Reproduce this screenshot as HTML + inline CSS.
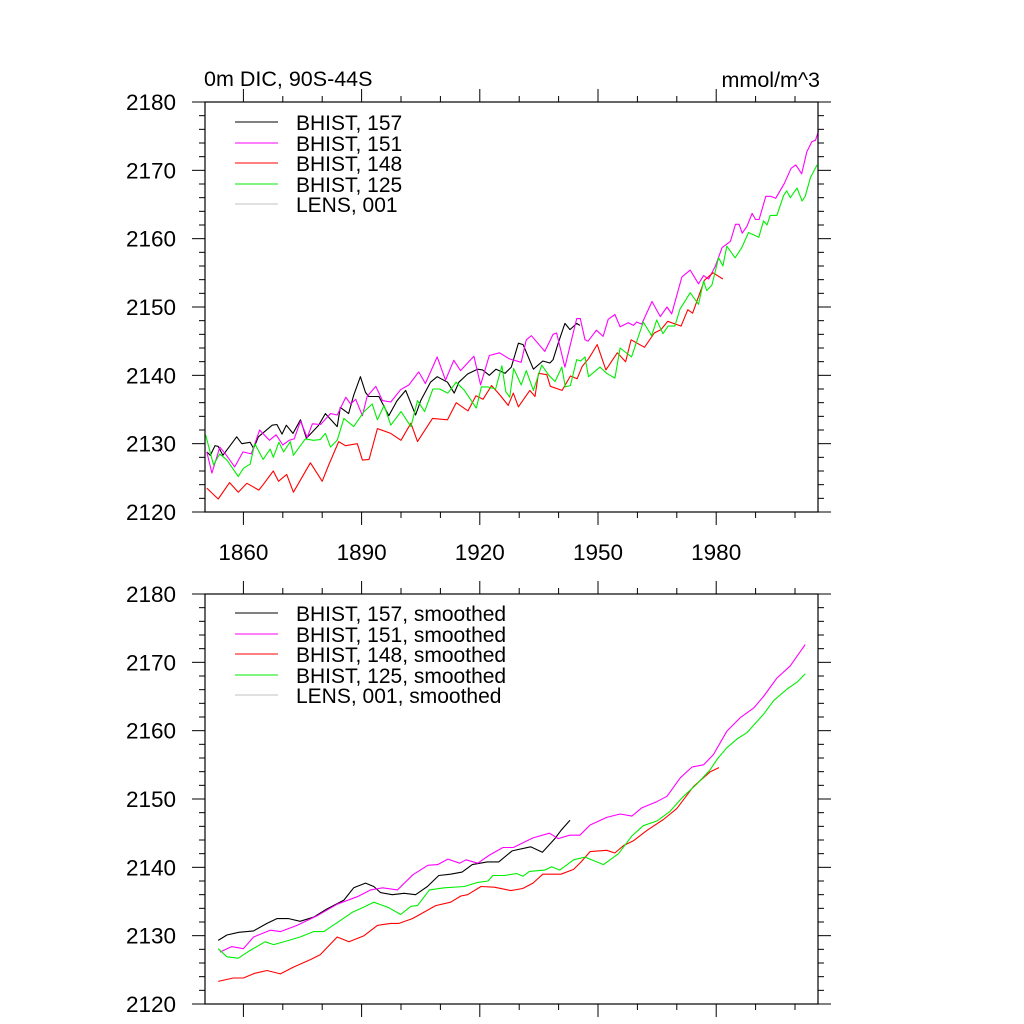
<!DOCTYPE html>
<html><head><meta charset="utf-8"><style>
html,body{margin:0;padding:0;background:#fff;}
svg{display:block;font-family:"Liberation Sans",sans-serif;}
</style></head><body>
<svg id="chart" width="1024" height="1024" viewBox="0 0 1024 1024">
<rect x="0" y="0" width="1024" height="1024" fill="#fff"/>
<text x="204" y="86" font-size="21.5" fill="#000">0m DIC, 90S-44S</text>
<text x="820" y="87" font-size="21.5" fill="#000" text-anchor="end">mmol/m^3</text>
<g id="top"></g>
<g id="bot"></g>
</svg>
<script>
// ---- data: raw annual series (top panel) ----
const yearsBlack = [1850.7,1851.6,1852.8,1853.6,1854.8,1858.3,1859.6,1861.7,1862.6,1863.8,1867.3,1868.5,1869.8,1870.9,1872.6,1874.5,1876,1879.1,1880.8,1883.8,1884.6,1886.7,1888,1889.7,1891,1891.8,1894.4,1896.9,1899,1901.2,1903.7,1905,1907.5,1909.2,1911.8,1913.5,1914.7,1916.9,1919.4,1920.7,1922.4,1924.1,1926.4,1928,1929.8,1931,1933.6,1936,1937.8,1938.6,1939.9,1941.6,1942.9,1944.6,1945.4];
const valsBlack = [2128.8,2128.3,2129.7,2129.6,2128.3,2131,2130,2130.2,2129.3,2131,2132.7,2132.8,2131.4,2132.7,2131.5,2133.5,2130.8,2132.7,2134.4,2132.5,2135.3,2134.4,2137.1,2139.8,2137.5,2136.9,2136.9,2134.1,2136.3,2137.8,2134.2,2136.3,2139,2139.8,2139,2137.4,2139,2140.2,2140.9,2140.8,2140,2140.9,2140.3,2141.2,2144.7,2144.5,2140.9,2142.1,2141.8,2142.3,2144.7,2147.6,2146.7,2147.6,2147.3];
const yearsMag = [1850.7,1852,1854,1855.3,1857.8,1859.9,1862,1864.1,1866.6,1868.3,1870,1871.6,1872.9,1874.5,1876.2,1877.5,1879.6,1882.1,1883.8,1886,1887.2,1888.5,1890.2,1891.4,1893.6,1895.3,1897.4,1899.9,1902,1904.5,1906.2,1909.2,1911.3,1913.4,1915.1,1918.5,1920.2,1922.4,1925,1927.5,1930.5,1931.8,1933.1,1936.5,1938.6,1939.5,1941.6,1944.6,1945.5,1946.7,1947.5,1949.6,1951.3,1952.6,1954.3,1955.6,1957.7,1959,1959.8,1961.1,1963.7,1965.8,1967.5,1968.7,1971.3,1973.4,1975.5,1976.8,1978.1,1979.8,1981.5,1983.6,1984.9,1985.8,1986.6,1987.8,1989.1,1990,1990.9,1992.6,1993.8,1995.1,1997.3,1999,2000.2,2001.7,2003,2004.3,2005.2,2006];
const valsMag = [2128.8,2125.7,2129.5,2128.6,2126.6,2128.8,2128.5,2132,2130.5,2131.3,2129.8,2130.5,2130.7,2133.3,2130.9,2132.9,2132.8,2134.4,2134.2,2136.8,2135.8,2136.5,2134.1,2136.9,2138.4,2136.3,2136.1,2137.9,2138.6,2140.5,2138.8,2142.7,2139.3,2142.2,2140.7,2142.8,2138.6,2142.9,2143.3,2142.4,2141.9,2145.2,2145.8,2143.5,2146,2146.2,2141.2,2148.3,2148.3,2145.2,2145,2146.6,2145.7,2148.2,2148.9,2147.1,2147.7,2147.3,2147.8,2147.5,2150.8,2148.6,2150,2149,2154.4,2155.4,2153.4,2154.6,2154.1,2156,2158.7,2159.6,2162.1,2162.1,2160.8,2161.8,2163.7,2162.8,2162.8,2166.2,2166.2,2165.9,2168.1,2170.3,2170.8,2169.5,2172.7,2174.2,2174.4,2175.8];
const yearsRed = [1850.7,1853.6,1856.5,1858.7,1860.9,1863.9,1865,1867.6,1868.9,1871,1872.7,1877,1880,1881.6,1884.2,1885.9,1888.9,1890.2,1891.9,1894,1897.4,1900,1902.5,1904.2,1908,1911.8,1914,1917,1919,1920.8,1923,1925,1927.2,1928.5,1929.8,1932.7,1934,1934.9,1937,1937.9,1940.9,1943,1944.7,1946,1947.7,1949.8,1952,1954.9,1957,1958.4,1961.8,1964.3,1966,1967.7,1971.1,1972.8,1974,1977,1979.2,1981.7];
const valsRed = [2123.5,2121.9,2124.3,2122.9,2124.2,2123.2,2124,2126,2124.5,2125.5,2122.9,2127.2,2124.5,2126.8,2130.3,2129.7,2130,2127.6,2127.7,2132.2,2131.5,2130.5,2133,2130.3,2133.7,2133.5,2136,2134.8,2137,2136.5,2138.5,2137.2,2135.6,2137.4,2135.4,2137.8,2136.9,2140.3,2140.1,2138.4,2137.8,2139.9,2139.5,2141.3,2142.5,2144.5,2140.8,2143.3,2142,2145.2,2144.1,2146.2,2146.7,2147.9,2147.2,2149.6,2149.1,2153.9,2155,2154.1];
const yearsGreen = [1850.4,1852.4,1854,1855.8,1858.7,1860,1861.7,1862.9,1865,1866.8,1867.6,1869,1870.2,1871.9,1872.7,1875.7,1877.8,1879.5,1880.8,1882.1,1883.8,1885.5,1888,1890.6,1892.7,1894,1895.7,1897.4,1900,1902.5,1904.2,1906,1908.1,1909.8,1911.9,1914,1916.1,1919.1,1920.4,1922,1924,1925.6,1926.6,1927.6,1928.6,1930.5,1931.8,1933.6,1935.7,1937.5,1939.1,1940.8,1941.7,1943,1944.6,1945.6,1946.7,1947.6,1950.5,1952.2,1954.3,1955.6,1958.5,1961.5,1963.6,1964.9,1966.5,1967.8,1969.5,1970.8,1971.7,1973.4,1975.5,1976.8,1977.6,1978.9,1980.6,1981.7,1982.7,1984.8,1986.5,1988.2,1990.8,1992,1992.9,1993.7,1995.4,1997.1,1997.9,1998.8,2000.5,2001.8,2002.6,2003.9,2005.6];
const valsGreen = [2131.3,2126.9,2128.5,2127.6,2125.2,2126.4,2127,2130,2127.7,2129.2,2128,2130.2,2128.8,2130.3,2128.3,2130.7,2130.5,2130.6,2131.5,2129.5,2130.5,2133.7,2132.5,2134.7,2135.8,2133.5,2135.6,2132.7,2134.7,2132.5,2136.3,2134.7,2138,2138,2137.4,2139,2137.8,2135.2,2138.3,2138.3,2138,2141.4,2137.6,2136.8,2141,2138.6,2140.7,2137.8,2141.5,2140,2139.1,2141.2,2138.3,2138.5,2142.3,2142.1,2142.7,2139.8,2141.2,2140.3,2139.6,2144,2142.7,2147.8,2145.8,2148.1,2146.1,2147.2,2147.2,2149.7,2150.5,2152.1,2150.4,2153.8,2152.4,2153.2,2157.2,2156,2158.9,2157.2,2158.7,2160.9,2160.2,2162.6,2162,2163.4,2163.4,2166.3,2167,2166,2167.4,2165.5,2166.2,2168.9,2170.8];
// ---- data: smoothed series (bottom panel) ----
const yearsBlackS = [1853.6,1855.8,1858.8,1862.6,1866,1868.5,1871.5,1874.4,1877.8,1881.2,1885.5,1888,1891,1893.1,1894.8,1897.8,1900.8,1903.7,1906.7,1909.6,1912.6,1915.5,1918.1,1921.9,1924.8,1928.2,1932.9,1935.9,1938.9,1940.6,1942.9];
const valsBlackS = [2129.3,2130.1,2130.5,2130.7,2131.8,2132.5,2132.5,2132.1,2132.7,2133.9,2135.2,2137,2137.7,2137.2,2136.3,2136,2136.2,2136,2137.2,2138.8,2139,2139.3,2140.4,2140.8,2140.8,2142.4,2143,2142.2,2144.1,2145.4,2146.9];
const yearsMagS = [1854,1857,1860,1862.6,1866.8,1869.4,1873.6,1878.7,1883.8,1888.9,1892.3,1895.3,1899.1,1903,1906.8,1909.3,1911.9,1914.9,1916.5,1919.5,1922.5,1925.9,1928.5,1933.5,1937.7,1939.9,1942.8,1945.4,1948,1952.2,1955.6,1958.6,1961.1,1964.9,1967.5,1970.9,1973.9,1976.8,1979.3,1982.7,1986.1,1989.5,1992,1995.4,1998.8,2002.6];
const valsMagS = [2127.6,2128.4,2128.1,2129.8,2130.8,2130.6,2131.5,2132.9,2134.6,2135.7,2136.7,2137,2136.7,2138.9,2140.3,2140.4,2141.2,2140.6,2141.1,2140.6,2141.8,2142.9,2142.9,2144.3,2145,2144.2,2144.7,2144.7,2146.2,2147.3,2147.8,2147.5,2148.7,2149.6,2150.4,2153.1,2154.7,2155,2156.5,2159.9,2161.9,2163.3,2165,2167.7,2169.5,2172.6];
const yearsRedS = [1853.6,1857.4,1860,1862.9,1866,1869.4,1872.7,1877,1879.5,1883.8,1886.8,1890.6,1894,1897.4,1899.5,1902.9,1905.4,1908.8,1912.6,1915.2,1916.9,1920.3,1923.7,1927.9,1930.9,1933.5,1936,1940.6,1943.8,1945.7,1948,1952.2,1954.3,1956.5,1959,1962.4,1966.6,1970,1974.2,1978.5,1980.7];
const valsRedS = [2123.3,2123.8,2123.8,2124.5,2124.9,2124.4,2125.4,2126.5,2127.2,2129.8,2129.1,2130,2131.5,2131.8,2131.8,2132.5,2133.3,2134.4,2134.9,2135.8,2136,2137.2,2137.1,2136.6,2136.9,2137.7,2139,2139,2139.7,2140.8,2142.3,2142.5,2142.1,2143.2,2143.9,2145.4,2147,2148.6,2151.8,2154,2154.6];
const yearsGreenS = [1853.6,1855.8,1858.7,1861.3,1865.5,1867.7,1871.5,1874.4,1877.8,1880.4,1884.6,1887.6,1890.6,1893.1,1896.9,1899.9,1902.5,1904.2,1907.2,1911,1916.1,1919.5,1922.1,1923.3,1926.3,1929.3,1931,1932.6,1936.5,1938.2,1940.3,1943.8,1946.7,1951.4,1955.2,1958.6,1961.5,1965,1968.3,1971.7,1975.1,1978.5,1980.2,1982.7,1985.3,1987.8,1992,1994.6,1998,2000.5,2002.6];
const valsGreenS = [2128.1,2126.9,2126.7,2127.7,2129.1,2128.7,2129.3,2129.8,2130.6,2130.6,2132.2,2133.4,2134.2,2134.9,2134.1,2133.1,2134.3,2134.4,2136.7,2137,2137.2,2137.8,2138,2138.8,2138.8,2139.1,2138.7,2139.4,2139.6,2140.1,2139.6,2141.1,2141.5,2140.4,2142,2144.6,2146.1,2146.8,2148.2,2150.4,2152.2,2154.3,2155.8,2157.5,2158.8,2159.7,2162.4,2164.4,2166.1,2167.1,2168.3];
const yTicks = [2120,2130,2140,2150,2160,2170,2180];
const xTickLabels = [1860,1890,1920,1950,1980];

const NS='http://www.w3.org/2000/svg';
const L=205,R=818;
function xs(yr){return 204+(yr-1850)*3.94;}
function mk(tag,attrs,parent){const e=document.createElementNS(NS,tag);for(const k in attrs)e.setAttribute(k,attrs[k]);parent.appendChild(e);return e;}

function panel(g,T,B,showXLabels,series,legendRows,legendY){
  const ys=v=>B-(v-2120)*(B-T)/60;
  for(let v=2120;v<=2180;v+=2){
    const maj=(v%10===0);const len=maj?13:6;
    const t1=mk('line',{x1:L-len,x2:L,y1:ys(v),y2:ys(v),stroke:'#000','stroke-width':1},g);
    
    
    const t2=mk('line',{x1:R,x2:R+len,y1:ys(v),y2:ys(v),stroke:'#000','stroke-width':1},g);
    
    
  }
  yTicks.forEach(v=>{
    const t=mk('text',{x:176,y:ys(v)+8,'font-size':22.5,'text-anchor':'end',fill:'#000'},g);
    t.textContent=v;
    
    
  });
  for(let yr=1860;yr<=2000;yr+=10){
    const maj=((yr-1860)%30===0);const len=maj?13:6;
    const a=mk('line',{x1:xs(yr),x2:xs(yr),y1:T-len,y2:T,stroke:'#000','stroke-width':1},g);
    
    
    const b=mk('line',{x1:xs(yr),x2:xs(yr),y1:B,y2:B+len,stroke:'#000','stroke-width':1},g);
    
    
  }
  if(showXLabels){
    xTickLabels.forEach(yr=>{
      const t=mk('text',{x:xs(yr),y:B+48,'font-size':22.5,'text-anchor':'middle',fill:'#000'},g);
      t.textContent=yr;
      
      
    });
  }
  series.forEach(s=>{
    const pts=s.years.map((yr,i)=>xs(yr).toFixed(1)+','+ys(s.vals[i]).toFixed(1)).join(' ');
    const p=mk('polyline',{points:pts,fill:'none',stroke:s.color,'stroke-width':1.1,'stroke-linejoin':'round'},g);
    
    
  });
  const f=mk('rect',{x:L,y:T,width:R-L,height:B-T,fill:'none',stroke:'#000','stroke-width':1.2},g);
  
  
  legendRows.forEach((r,i)=>{
    const y=legendY[i];
    const lg=mk('g',{},g);
    
    
    mk('line',{x1:235,x2:278,y1:y,y2:y,stroke:r.color,'stroke-width':1},lg);
    const t=mk('text',{x:296,y:y+8,'font-size':21,fill:'#000'},lg);
    t.textContent=r.label;
  });
}
const cBlack='#000',cMag='#ff00ff',cRed='#ff0000',cGreen='#00ee00',cGray='#c0c0c0';
panel(document.getElementById('top'),102,512,true,[
  {years:yearsBlack,vals:valsBlack,color:cBlack,name:'line-bhist-157'},
  {years:yearsMag,vals:valsMag,color:cMag,name:'line-bhist-151'},
  {years:yearsRed,vals:valsRed,color:cRed,name:'line-bhist-148'},
  {years:yearsGreen,vals:valsGreen,color:cGreen,name:'line-bhist-125'}
],[
  {label:'BHIST, 157',color:cBlack},{label:'BHIST, 151',color:cMag},{label:'BHIST, 148',color:cRed},{label:'BHIST, 125',color:cGreen},{label:'LENS, 001',color:cGray}
],[122,143,163,184,204]);
panel(document.getElementById('bot'),594,1004,false,[
  {years:yearsBlackS,vals:valsBlackS,color:cBlack,name:'line-bhist-157-smoothed'},
  {years:yearsMagS,vals:valsMagS,color:cMag,name:'line-bhist-151-smoothed'},
  {years:yearsRedS,vals:valsRedS,color:cRed,name:'line-bhist-148-smoothed'},
  {years:yearsGreenS,vals:valsGreenS,color:cGreen,name:'line-bhist-125-smoothed'}
],[
  {label:'BHIST, 157, smoothed',color:cBlack},{label:'BHIST, 151, smoothed',color:cMag},{label:'BHIST, 148, smoothed',color:cRed},{label:'BHIST, 125, smoothed',color:cGreen},{label:'LENS, 001, smoothed',color:cGray}
],[613,634,654,675,695]);
</script>
</body></html>
